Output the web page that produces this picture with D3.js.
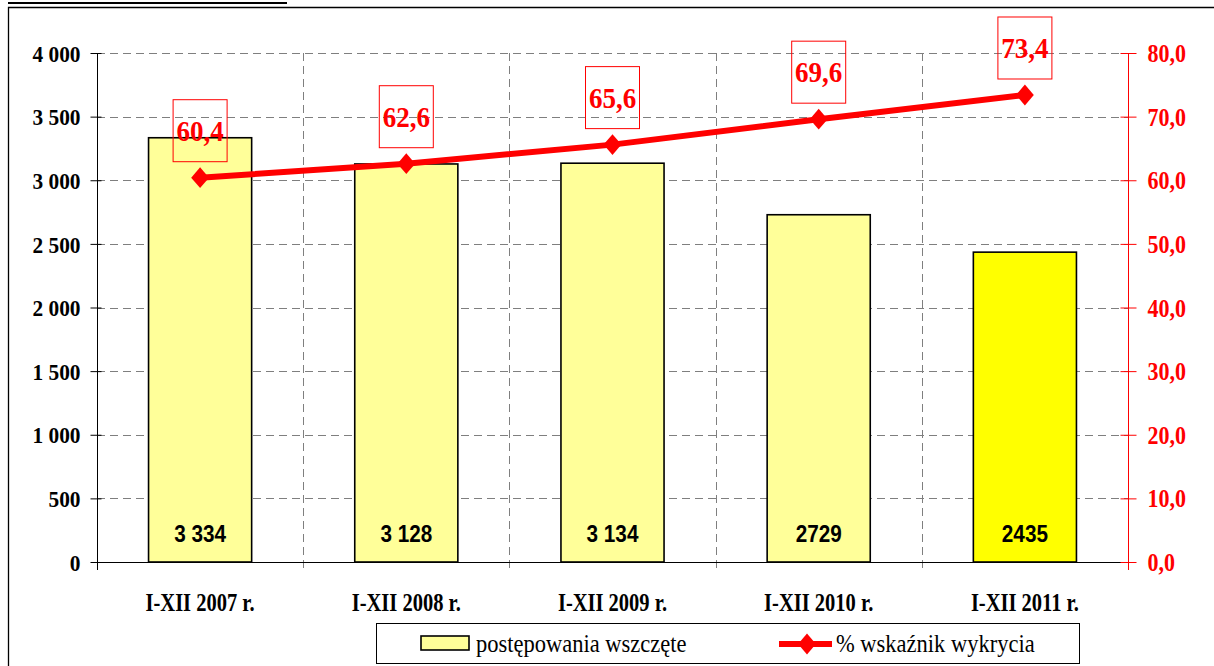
<!DOCTYPE html>
<html>
<head>
<meta charset="utf-8">
<script src="https://cdn.jsdelivr.net/npm/d3@7"></script>
<style>
body{margin:0;background:#fff;}
svg{display:block;}
text.serif{font-family:"Liberation Serif","Times New Roman",serif;}
text.sans{font-family:"Liberation Sans",Arial,sans-serif;}
</style>
</head>
<body>
<svg id="chart"></svg>
<script>
// data
var categories=["I-XII 2007 r.","I-XII 2008 r.","I-XII 2009 r.","I-XII 2010 r.","I-XII 2011 r."]
var casesValues=[3334,3128,3134,2729,2435]
var casesLabels=["3 334","3 128","3 134","2729","2435"]
var rateValues=[60.4,62.6,65.6,69.6,73.4]
var leftTicks=[0,500,1000,1500,2000,2500,3000,3500,4000]
var rightTicks=[0,10,20,30,40,50,60,70,80]
var legendNames=["postępowania wszczęte","% wskaźnik wykrycia"]

var screen={width:1214,height:666}
var plot={left:97,right:1128,top:53,bottom:562}

var svg=d3.select("#chart")
    .attr("width",screen.width)
    .attr("height",screen.height)

// the original fonts are narrow, squeeze text horizontally
var squeeze=function(sel,k){
  sel.each(function(){
    var w=this.getComputedTextLength()
    d3.select(this).attr("textLength",w*k).attr("lengthAdjust","spacingAndGlyphs")
  })
}

// frame + cut-off title underline
svg.append("line").attr("x1",8).attr("x2",287).attr("y1",3).attr("y2",3)
    .attr("stroke","#000").attr("stroke-width",2)
svg.append("path").attr("d","M8.5,666 V7.5 H1214")
    .attr("fill","none").attr("stroke","#000").attr("stroke-width",1.3)

var xScale=d3.scaleBand().domain(categories).range([plot.left,plot.right])
var yLeft=d3.scaleLinear().domain([0,4000]).range([plot.bottom,plot.top])
var yRight=d3.scaleLinear().domain([0,80]).range([plot.bottom,plot.top])

// horizontal grid
svg.append("g").selectAll("line").data(leftTicks.slice(1)).enter().append("line")
    .attr("x1",plot.left).attr("x2",plot.right)
    .attr("y1",function(d){return Math.round(yLeft(d))+0.5}).attr("y2",function(d){return Math.round(yLeft(d))+0.5})
    .attr("stroke","#7f7f7f").attr("stroke-dasharray","8,5")

// vertical grid at category boundaries
var bounds=categories.slice(1).map(function(c){return xScale(c)})
svg.append("g").selectAll("line").data(bounds).enter().append("line")
    .attr("x1",function(d){return Math.round(d)+0.5}).attr("x2",function(d){return Math.round(d)+0.5})
    .attr("y1",plot.top).attr("y2",plot.bottom+8)
    .attr("stroke","#7f7f7f").attr("stroke-dasharray","8,5")

// bars
var barW=xScale.bandwidth()/2
svg.append("g").selectAll("rect").data(casesValues).enter().append("rect")
    .attr("x",function(d,i){return xScale(categories[i])+xScale.bandwidth()/4})
    .attr("y",function(d){return yLeft(d)})
    .attr("width",barW)
    .attr("height",function(d){return plot.bottom-yLeft(d)})
    .attr("fill",function(d,i){return i==4?"#ffff00":"#ffff99"})
    .attr("stroke","#000").attr("stroke-width",1.6)

svg.append("g").selectAll("text").data(casesLabels).enter().append("text")
    .classed("sans",true)
    .attr("x",function(d,i){return xScale(categories[i])+xScale.bandwidth()/2})
    .attr("y",plot.bottom-20)
    .attr("text-anchor","middle")
    .style("font-weight","bold").style("font-size","23px")
    .text(function(d){return d})
    .call(squeeze,0.9)

// left axis
var leftAxis=d3.axisLeft(yLeft).tickValues(leftTicks).tickSize(7).tickPadding(10)
    .tickFormat(function(d){return d3.format(",")(d).replace(","," ")})
var gl=svg.append("g").attr("transform","translate("+(plot.left+0.5)+",0)").call(leftAxis)
    .attr("font-family",null).attr("font-size",null)
gl.select(".domain").attr("stroke","#000").attr("d","M0,"+plot.top+"V"+(plot.bottom+8))
gl.selectAll(".tick line").attr("stroke","#000").attr("x1",4)
gl.selectAll("text").classed("serif",true).style("font-weight","bold")
    .style("font-size","24px").attr("dy","0.34em")
    .call(squeeze,0.89)

// bottom axis line
svg.append("line").attr("x1",plot.left).attr("x2",plot.right)
    .attr("y1",plot.bottom+0.5).attr("y2",plot.bottom+0.5)
    .attr("stroke","#000").attr("stroke-width",1.2)

svg.append("g").selectAll("text").data(categories).enter().append("text")
    .classed("serif",true)
    .attr("x",function(d){return xScale(d)+xScale.bandwidth()/2})
    .attr("y",plot.bottom+49)
    .attr("text-anchor","middle")
    .style("font-weight","bold").style("font-size","25px")
    .text(function(d){return d})
    .call(squeeze,0.82)

// right axis
var rightAxis=d3.axisRight(yRight).tickValues(rightTicks).tickSize(8).tickPadding(11)
    .tickFormat(function(d){return d3.format(".1f")(d).replace(".",",")})
var gr=svg.append("g").attr("transform","translate("+(plot.right+0.5)+",0)").call(rightAxis)
    .attr("font-family",null).attr("font-size",null)
gr.select(".domain").attr("stroke","#ff0000").attr("d","M0,"+plot.top+"V"+(plot.bottom+8))
gr.selectAll(".tick line").attr("stroke","#ff0000").attr("x1",-8)
gr.selectAll("text").classed("serif",true).attr("fill","#ff0000").style("font-weight","bold")
    .style("font-size","25px").attr("dy","0.34em")
    .call(squeeze,0.88)

// line series
var xMid=function(i){return xScale(categories[i])+xScale.bandwidth()/2}
var lineGen=d3.line().x(function(d,i){return xMid(i)}).y(function(d){return yRight(d)})
svg.append("path").datum(rateValues).attr("d",lineGen)
    .attr("fill","none").attr("stroke","#ff0000").attr("stroke-width",6)
var diamond=d3.symbol().type(d3.symbolDiamond2).size(250)
svg.append("g").selectAll("path").data(rateValues).enter().append("path")
    .attr("d",diamond)
    .attr("transform",function(d,i){return "translate("+xMid(i)+","+yRight(d)+") scale(0.9,1.05)"})
    .attr("fill","#ff0000")

// value labels in boxes
var lab=svg.append("g").selectAll("g").data(rateValues).enter().append("g")
    .attr("transform",function(d,i){return "translate("+xMid(i)+","+yRight(d)+")"})
lab.append("rect").attr("x",-27).attr("y",-78).attr("width",54).attr("height",62)
    .attr("fill","none").attr("stroke","#ff0000").attr("stroke-width",1)
lab.append("text").classed("serif",true).attr("x",0).attr("y",-37).attr("text-anchor","middle")
    .attr("fill","#ff0000").style("font-weight","bold")
    .style("font-size","30px")
    .text(function(d){return d3.format(".1f")(d).replace(".",",")})
    .call(squeeze,0.9)

// legend
var lg=svg.append("g")
lg.append("rect").attr("x",376.5).attr("y",623.5).attr("width",703).attr("height",40)
    .attr("fill","#fff").attr("stroke","#000").attr("stroke-width",1)
lg.append("rect").attr("x",421).attr("y",636).attr("width",48).attr("height",14)
    .attr("fill","#ffff99").attr("stroke","#000").attr("stroke-width",1.6)
lg.append("text").classed("serif",true).attr("x",476).attr("y",652).text(legendNames[0])
    .style("font-size","25px")
    .call(squeeze,0.9)
lg.append("line").attr("x1",779).attr("x2",832).attr("y1",644).attr("y2",644)
    .attr("stroke","#ff0000").attr("stroke-width",6)
lg.append("path").attr("d",diamond).attr("transform","translate(807,644) scale(0.9,1.05)").attr("fill","#ff0000")
lg.append("text").classed("serif",true).attr("x",836).attr("y",652).text(legendNames[1])
    .style("font-size","25px")
    .call(squeeze,0.9)
</script>
</body>
</html>
